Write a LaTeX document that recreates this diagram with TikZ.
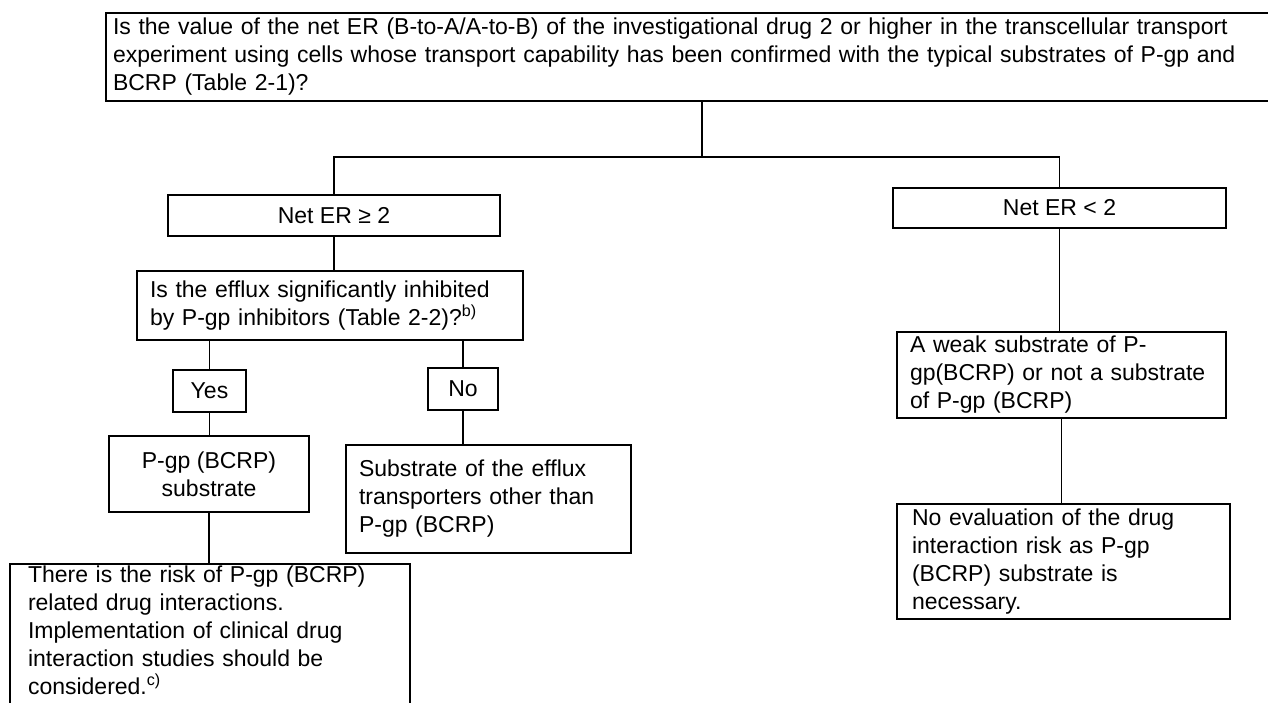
\documentclass[tikz,border=0pt]{standalone}
\usepackage{fontspec}
\setmainfont{Liberation Sans}
\begin{document}
\begin{tikzpicture}[x=1pt, y=-1pt, line width=1.2pt,
  box/.style = {shape=rectangle, draw, line width=1.5pt, font=\fontsize{23}{28}\selectfont, inner ysep=2pt},
  lbox/.style = {box, align=left, inner xsep=13pt},
  cbox/.style = {box, align=center}]

  \path[use as bounding box, clip] (0,0) rectangle (1268,703);
  \fill[white] (0,0) rectangle (1268,703);

  \node [lbox, text width=1170pt, inner xsep=7pt, minimum height=88pt] (question) at (698,57)
    {Is the value of the net ER (B-to-A/A-to-B) of the investigational drug 2 or higher in the transcellular transport\\
     experiment using cells whose transport capability has been confirmed with the typical substrates of P-gp and\\
     BCRP (Table 2-1)?};
  \coordinate (split) at (702,157);

  \node [cbox, minimum width=332pt, minimum height=41pt] (netge) at (334,215.5) {Net ER ≥ 2};
  \node [cbox, minimum width=333pt, minimum height=40pt] (netlt) at (1059.5,208) {Net ER < 2};

  \node [lbox, text width=360pt, minimum height=69pt] (inhibit) at (330,305.5)
    {Is the efflux significantly inhibited\\ by P-gp inhibitors (Table 2-2)?\textsuperscript{b)}};
  \node [cbox, minimum width=73pt, minimum height=42pt] (yes) at (209.5,391) {Yes};
  \node [cbox, minimum width=70pt, minimum height=42pt] (no) at (463,389) {No};
  \node [cbox, minimum width=200pt, minimum height=76pt] (pgpsub) at (209,474) {P-gp (BCRP)\\ substrate};
  \node [lbox, text width=259pt, minimum height=108pt] (other) at (488.5,499)
    {Substrate of the efflux\\ transporters other than\\ P-gp (BCRP)};
  \node [lbox, text width=364pt, inner xsep=18pt, anchor=north] (risk) at (210,563)
    {There is the risk of P-gp (BCRP)\\ related drug interactions.\\ Implementation of clinical drug\\
     interaction studies should be\\ considered.\textsuperscript{c)}\\ \mbox{}};

  \node [lbox, text width=303pt, minimum height=86pt] (weak) at (1061.5,375)
    {A weak substrate of P-\\ gp(BCRP) or not a substrate\\ of P-gp (BCRP)};
  \node [lbox, text width=303pt, inner xsep=15pt, minimum height=115pt] (noeval) at (1063.5,561.5)
    {No evaluation of the drug\\ interaction risk as P-gp\\ (BCRP) substrate is\\ necessary.};

  \draw (question.south -| split) -- (split);
  \draw [line width=1.6pt] (netge.north) |- (split) -| (netlt.north);
  \draw (netge.south) -- (netge.south |- inhibit.north);
  \draw (yes.north) -- (yes.north |- inhibit.south);
  \draw (no.north) -- (no.north |- inhibit.south);
  \draw (yes.south) -- (yes.south |- pgpsub.north);
  \draw (no.south) -- (no.south |- other.north);
  \draw (pgpsub.south) -- (pgpsub.south |- risk.north);
  \draw (netlt.south) -- (netlt.south |- weak.north);
  \draw (weak.south) -- (weak.south |- noeval.north);

\end{tikzpicture}
\end{document}
